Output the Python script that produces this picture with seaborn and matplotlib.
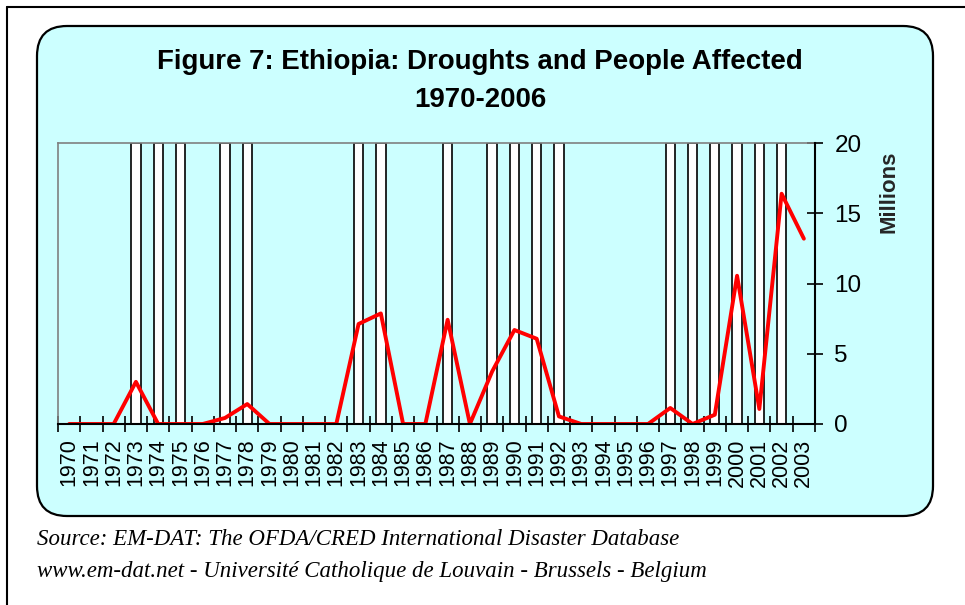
import numpy as np
import pandas as pd
import matplotlib
matplotlib.use("Agg")
import matplotlib.pyplot as plt
import seaborn as sns
from matplotlib.patches import FancyBboxPatch
from matplotlib.lines import Line2D

# ---------------- data ----------------
years = [1970, 1971, 1972, 1973, 1974, 1975, 1976, 1977, 1978, 1979,
         1980, 1981, 1982, 1983, 1984, 1985, 1986, 1987, 1988, 1989,
         1990, 1991, 1992, 1993, 1994, 1995, 1996, 1997, 1998, 1999,
         2000, 2001, 2002, 2003]
people_affected = [0, 0, 0, 3.0, 0, 0, 0, 0.43, 1.42, 0,
                   0, 0, 0, 7.12, 7.87, 0, 0, 7.42, 0, 3.74,
                   6.69, 6.07, 0.54, 0, 0, 0, 0, 1.14, 0, 0.66,
                   10.55, 1.07, 16.39, 13.19]
drought_years = [1973, 1974, 1975, 1977, 1978, 1983, 1984, 1987, 1989, 1990,
                 1991, 1992, 1997, 1998, 1999, 2000, 2001, 2002]
drought_bar_value = 20
y_ticks = [0, 5, 10, 15, 20]

title = "Figure 7: Ethiopia: Droughts and People Affected\n1970-2006"
source1 = "Source: EM-DAT: The OFDA/CRED International Disaster Database"
source2 = "www.em-dat.net - Université Catholique de Louvain - Brussels - Belgium"

# ---------------- style ----------------
sns.set_theme(style="ticks")
plt.rcParams['font.family'] = ['Liberation Sans', 'DejaVu Sans']

W, H = 965, 605
fig = plt.figure(figsize=(W / 100, H / 100), dpi=100)
fig.patch.set_facecolor('white')

bg = '#CCFFFF'

# outer frame lines (top + left)
fig.add_artist(Line2D([7 / W, 1.0], [1 - 6.5 / H, 1 - 6.5 / H], transform=fig.transFigure,
                      color='black', lw=1.5, zorder=-2))
fig.add_artist(Line2D([7 / W, 7 / W], [0, 1 - 6.5 / H], transform=fig.transFigure,
                      color='black', lw=1.5, zorder=-2))

# rounded chart box
x0, x1 = 37 / W, 933 / W
y0, y1 = 1 - 516 / H, 1 - 26 / H
box = FancyBboxPatch((x0, y0), x1 - x0, y1 - y0,
                     boxstyle="round,pad=0,rounding_size=%f" % (30 / W),
                     mutation_aspect=W / H,
                     transform=fig.transFigure, facecolor=bg, edgecolor='black',
                     lw=1.6, zorder=-1)
fig.add_artist(box)

# axes
ax = fig.add_axes([58 / W, 1 - 424 / H, (815 - 58) / W, (424 - 143) / H])
ax.set_facecolor(bg)

year_labels = [str(y) for y in years]
df_bars = pd.DataFrame({'year': [str(y) for y in drought_years],
                        'value': [drought_bar_value] * len(drought_years)})
sns.barplot(data=df_bars, x='year', y='value', order=year_labels, ax=ax,
            color='white', saturation=1, width=0.42, edgecolor='black',
            linewidth=1.2, zorder=2)

df_line = pd.DataFrame({'pos': np.arange(len(years)), 'affected': people_affected})
sns.lineplot(data=df_line, x='pos', y='affected', ax=ax, color='#FF0000',
             lw=2.8, zorder=3)

n = len(years)
ax.set_xlim(-0.5, n - 0.5)
ax.set_ylim(0, 20)

# x axis: tick marks at category boundaries, labels at centres
ax.set_xticks(np.arange(n + 1) - 0.5)
ax.set_xticklabels([''] * (n + 1))
ax.set_xticks(np.arange(n), minor=True)
ax.set_xticklabels(year_labels, minor=True, rotation=90)
ax.tick_params(axis='x', which='major', direction='inout', length=11, width=1.2,
               color='black')
ax.tick_params(axis='x', which='minor', length=0, pad=10.5, labelsize=15.5,
               labelcolor='black')

# y axis on the right
ax.yaxis.tick_right()
ax.set_yticks(y_ticks)
ax.set_yticklabels([str(v) for v in y_ticks])
ax.tick_params(axis='y', which='major', direction='inout', length=12, width=1.2,
               pad=8, labelsize=17.5, color='black', labelcolor='black',
               left=False, right=True)
ax.yaxis.set_label_position('right')
ax.set_ylabel('Millions', fontsize=16, fontweight='bold', rotation=90,
              ha='center', va='center')
ax.yaxis.set_label_coords((889 - 58) / (815 - 58), (424 - 192) / (424 - 143))
ax.set_xlabel('')

for side in ['top', 'left']:
    ax.spines[side].set_color('#808080')
    ax.spines[side].set_linewidth(1.2)
for side in ['bottom', 'right']:
    ax.spines[side].set_color('black')
    ax.spines[side].set_linewidth(1.5)
    ax.spines[side].set_zorder(5)

# title
fig.text(480 / W, 1 - 62 / H, title.split('\n')[0], ha='center', va='center',
         fontsize=19.9, fontweight='bold', color='black')
fig.text(480 / W, 1 - 100 / H, title.split('\n')[1], ha='center', va='center',
         fontsize=19.9, fontweight='bold', color='black')

# source notes
fig.text(37 / W, 1 - 545 / H, source1, ha='left', va='baseline', fontsize=16.5,
         fontstyle='italic', family=['Liberation Serif', 'DejaVu Serif'], color='black')
fig.text(37 / W, 1 - 577 / H, source2, ha='left', va='baseline', fontsize=16.5,
         fontstyle='italic', family=['Liberation Serif', 'DejaVu Serif'], color='black')

fig.savefig('out.png', dpi=100, facecolor='white')
